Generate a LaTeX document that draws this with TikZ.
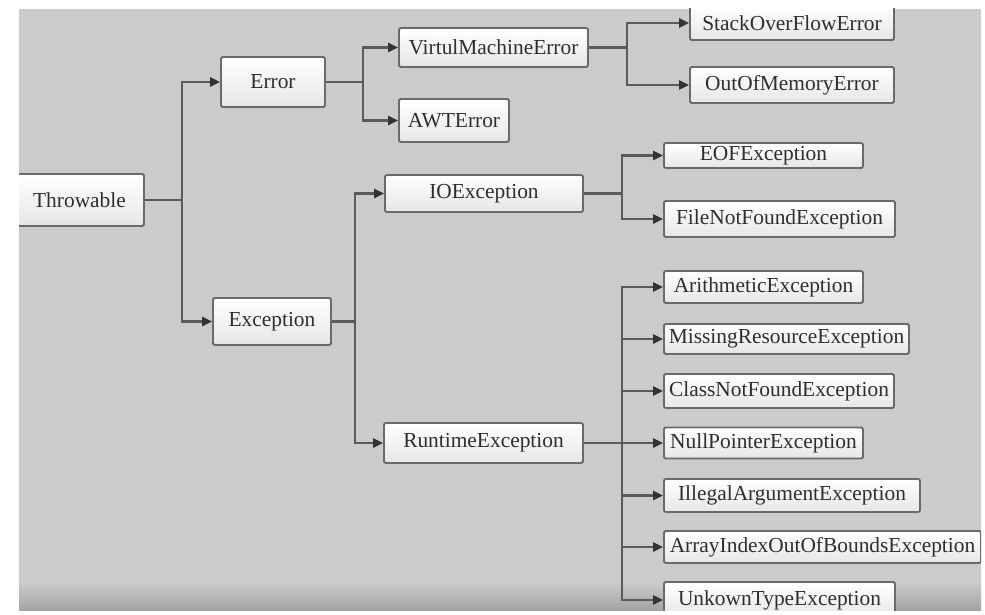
\documentclass[tikz,border=0pt]{standalone}
\usepackage{fontspec}
\setmainfont{Liberation Serif}
\usetikzlibrary{arrows.meta}
\definecolor{bgc}{HTML}{CBCBCB}
\definecolor{bgdark}{HTML}{A2A2A2}
\definecolor{boxc}{HTML}{6A6A6A}
\definecolor{linec}{HTML}{5A5A5A}
\definecolor{tipc}{HTML}{333333}
\definecolor{textc}{HTML}{2E2E2E}
\definecolor{fillbot}{HTML}{E6E6E6}
\tikzset{
  box/.style={draw=boxc, line width=1.8pt, top color=white, bottom color=fillbot,
    rounded corners=1.5pt, inner sep=0pt, text=textc,
    font=\fontsize{21.4}{24}\selectfont},
  conn/.style={draw=linec, line width=2.2pt},
  arr/.style={conn, -{Triangle[length=10pt,width=9pt,color=tipc]}},
}
\begin{document}
\begin{tikzpicture}[x=1pt,y=-1pt]
\useasboundingbox (0,0) rectangle (985,615);
\fill[white] (0,0) rectangle (985,615);
\begin{scope}
\clip (19,9) rectangle (981,610);
\fill[bgc] (19,9) rectangle (981,610);
\shade[top color=bgc, bottom color=bgdark] (19,582) rectangle (981,611);
% nodes
\node[box, minimum width=129pt, minimum height=52pt] (thr) at (79.5,200) {Throwable};
\node[box, minimum width=104pt, minimum height=50pt] (err) at (273,82) {Error};
\node[box, minimum width=118pt, minimum height=47pt] (exc) at (272,321.5) {Exception};
\node[box, minimum width=189pt, minimum height=39pt] (vme) at (493.5,47.5) {VirtulMachineError};
\node[box, minimum width=110pt, minimum height=43pt] (awt) at (454,120.5) {AWTError};
\node[box, minimum width=204pt, minimum height=34pt] (sof) at (792,23) {StackOverFlowError};
\node[box, minimum width=204pt, minimum height=36pt] (oom) at (792,85) {OutOfMemoryError};
\node[box, minimum width=198pt, minimum height=37pt] (ioe) at (484,193.5) {IOException};
\node[box, minimum width=199pt, minimum height=25pt] (eof) at (763.5,155.5) {EOFException};
\node[box, minimum width=231pt, minimum height=36pt] (fnf) at (779.5,219) {FileNotFoundException};
\node[box, minimum width=199pt, minimum height=40pt] (rte) at (483.5,443) {RuntimeException};
\node[box, minimum width=199pt, minimum height=32pt] (ari) at (763.5,287) {ArithmeticException};
\node[box, minimum width=245pt, minimum height=30pt] (mis) at (786.5,339) {MissingResourceException};
\node[box, minimum width=230pt, minimum height=34pt] (cnf) at (779,391) {ClassNotFoundException};
\node[box, minimum width=199pt, minimum height=31pt] (npe) at (763.5,443) {NullPointerException};
\node[box, minimum width=256pt, minimum height=33pt] (iae) at (792,495.5) {IllegalArgumentException};
\node[box, minimum width=317pt, minimum height=32pt] (aio) at (822.5,547) {ArrayIndexOutOfBoundsException};
\node[box, minimum width=231pt, minimum height=36pt] (ute) at (779.5,600) {UnkownTypeException};
% connectors
\draw[conn] (thr.east) -- ++(37,0) coordinate (b1);
\draw[arr] (b1) |- (err.west);
\draw[arr] (b1) |- (exc.west);
\draw[conn] (err.east) -- ++(37,0) coordinate (b2);
\draw[arr] (b2) |- (vme.west);
\draw[arr] (b2) |- (awt.west);
\draw[conn] (vme.east) -- ++(38,0) coordinate (b3);
\draw[arr] (b3) |- (sof.west);
\draw[arr] (b3) |- (oom.west);
\draw[conn] (exc.east) -- ++(23,0) coordinate (b4);
\draw[arr] (b4) |- (ioe.west);
\draw[arr] (b4) |- (rte.west);
\draw[conn] (ioe.east) -- ++(38,0) coordinate (b5);
\draw[arr] (b5) |- (eof.west);
\draw[arr] (b5) |- (fnf.west);
\draw[conn] (rte.east) -- ++(38,0) coordinate (b6);
\draw[arr] (b6) |- (ari.west);
\draw[arr] (b6) |- (mis.west);
\draw[arr] (b6) |- (cnf.west);
\draw[arr] (b6) |- (npe.west);
\draw[arr] (b6) |- (iae.west);
\draw[arr] (b6) |- (aio.west);
\draw[arr] (b6) |- (ute.west);
\end{scope}
\end{tikzpicture}
\end{document}
